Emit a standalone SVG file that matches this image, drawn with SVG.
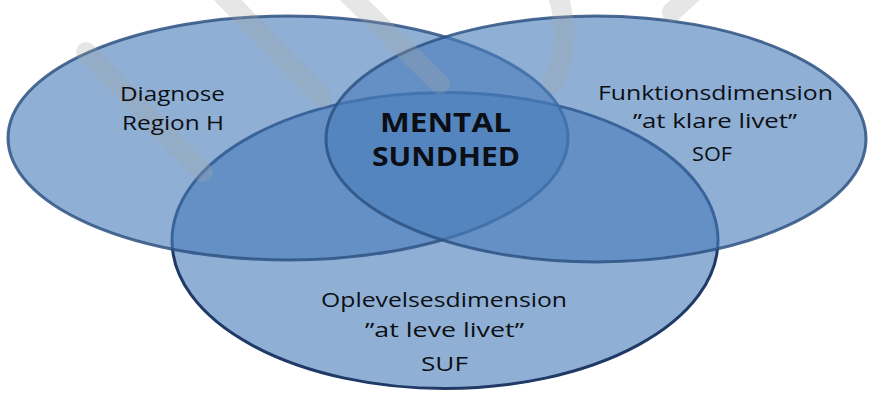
<svg xmlns="http://www.w3.org/2000/svg" width="872" height="394" viewBox="0 0 872 394">
  <style>
    .ell { fill: #4A7EBB; fill-opacity: 0.62; stroke-width: 3; }
    .ell-lr { stroke: #2E5283; stroke-opacity: 0.85; }
    .ell-b { stroke: #1F3A66; }
    .wm { fill: none; stroke: #a4a4a4; stroke-opacity: 0.28; stroke-width: 20; stroke-linecap: round; }
    .lbl { font-family: "Open Sans", "Liberation Sans", sans-serif; font-size: 20.5px; fill: #0c0f14; text-anchor: middle; }
    .big { font-family: "Open Sans", "Liberation Sans", sans-serif; font-size: 26px; font-weight: bold; fill: #0b0e14; text-anchor: middle; }
  </style>
  <rect width="872" height="394" fill="#ffffff"/>
  <g id="node-bottom">
    <ellipse class="ell ell-b" cx="445" cy="240.5" rx="273" ry="148"/>
  </g>
  <g id="node-left">
    <ellipse class="ell ell-lr" cx="288" cy="138" rx="280" ry="122"/>
  </g>
  <g id="node-right">
    <ellipse class="ell ell-lr" cx="596" cy="139" rx="270" ry="123"/>
  </g>
  <g id="connectors"></g>
  <g id="watermark">
    <line class="wm" x1="86" y1="52" x2="203" y2="172"/>
    <line class="wm" x1="222" y1="-6" x2="322" y2="98"/>
    <line class="wm" x1="346" y1="-8" x2="440" y2="84"/>
    <path class="wm" d="M556,-10 Q574,40 553,82"/>
    <line class="wm" x1="700" y1="-14" x2="672" y2="12"/>
  </g>
  <g id="label-left">
    <text class="lbl" x="172.5" y="101" textLength="105" lengthAdjust="spacingAndGlyphs">Diagnose</text>
    <text class="lbl" x="173" y="130" textLength="102" lengthAdjust="spacingAndGlyphs">Region H</text>
  </g>
  <g id="node-center">
    <text class="big" x="445.5" y="132" textLength="131" lengthAdjust="spacingAndGlyphs">MENTAL</text>
    <text class="big" x="446" y="166" textLength="148" lengthAdjust="spacingAndGlyphs">SUNDHED</text>
  </g>
  <g id="label-right">
    <text class="lbl" x="715.5" y="99.5" textLength="235" lengthAdjust="spacingAndGlyphs">Funktionsdimension</text>
    <text class="lbl" x="715" y="128" textLength="164" lengthAdjust="spacingAndGlyphs">”at klare livet”</text>
    <text class="lbl" x="712" y="161" textLength="40" lengthAdjust="spacingAndGlyphs">SOF</text>
  </g>
  <g id="label-bottom">
    <text class="lbl" x="444" y="307" textLength="246" lengthAdjust="spacingAndGlyphs">Oplevelsesdimension</text>
    <text class="lbl" x="444.5" y="337" textLength="159" lengthAdjust="spacingAndGlyphs">”at leve livet”</text>
    <text class="lbl" x="444.5" y="371" textLength="47" lengthAdjust="spacingAndGlyphs">SUF</text>
  </g>
</svg>
